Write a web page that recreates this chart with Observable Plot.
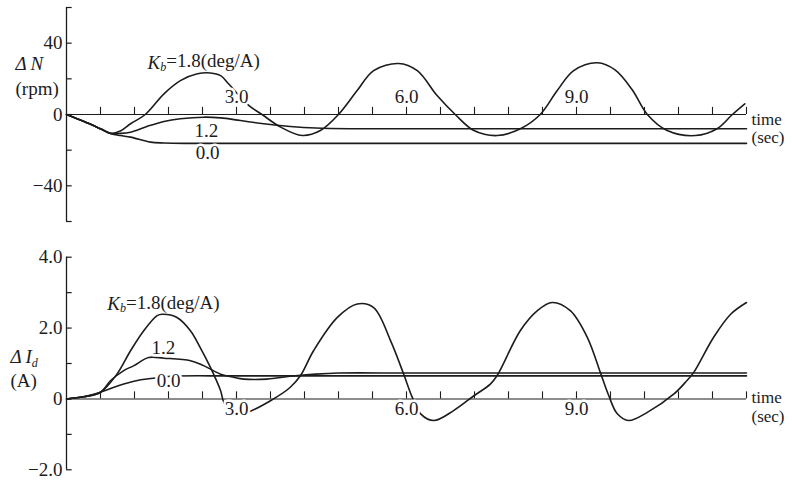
<!DOCTYPE html>
<html>
<head>
<meta charset="utf-8">
<script src="https://cdn.jsdelivr.net/npm/d3@7"></script>
<script src="https://cdn.jsdelivr.net/npm/@observablehq/plot@0.6"></script>
<style>
  html, body { margin: 0; padding: 0; background: #fff; }
  #chart { width: 792px; height: 480px; overflow: hidden; }
  #chart svg { display: block; }
</style>
</head>
<body>
<div id="chart"></div>
<script>
// ---------- shared time axis ----------
const xTickTimes = [0.6, 1.2, 1.8, 2.4, 3.0, 3.6, 4.2, 4.8, 5.4, 6.0, 6.6, 7.2, 7.8, 8.4, 9.0, 9.6, 10.2, 10.8, 11.4, 12.0];
const timeLabelTimes = [3, 6, 9];
const timeLabelTexts = ["3.0", "6.0", "9.0"];
const kbNames = ["1.8", "1.2", "0.0"];

// ---------- top panel: ΔN (rpm) ----------
const nTicks = [-60, -40, -20, 0, 20, 40, 60];
const nTickLabelValues = [40, 0, -40];
const nTickLabelTexts = ["40", "0", "\u221240"];

const nT18 = [0, 0.3, 0.6, 0.78, 0.95, 1.13, 1.39, 1.72, 2.01, 2.31, 2.54, 2.72, 2.86, 3.05, 3.22, 3.45, 3.78, 4.16, 4.48, 4.8, 5.13, 5.42, 5.86, 6.19, 6.54, 6.86, 7.19, 7.6, 8.01, 8.36, 8.66, 8.95, 9.37, 9.68, 9.98, 10.25, 10.6, 11.1, 11.48, 11.75, 11.97];
const nV18 = [0, -3.8, -8, -10.6, -9.3, -5.2, 0, 11.6, 19, 22.8, 23.3, 21.8, 17.2, 10.5, 5, 0, -7.1, -11.8, -9, 0, 13.4, 24.6, 28.6, 24.6, 10.6, 0, -9, -11.8, -8, 0, 13.4, 24.6, 29, 25, 14, 0, -9, -11.8, -8, 0, 6];
const nT12 = [0, 0.3, 0.6, 0.78, 0.95, 1.13, 1.42, 1.72, 2.01, 2.42, 2.72, 3.07, 3.48, 3.95, 4.4, 5.0, 6.0, 8.0, 10.0, 12.0];
const nV12 = [0, -3.8, -8, -10.6, -10.6, -9.9, -6.7, -3.9, -2.4, -1.5, -1.9, -3.4, -5.2, -6.7, -7.6, -8, -8, -8, -8, -8];
const nT00 = [0, 0.3, 0.6, 0.78, 0.95, 1.13, 1.48, 1.72, 2.2, 4, 6, 8, 10, 12];
const nV00 = [0, -3.8, -8, -10.6, -11.8, -12.7, -15.5, -16, -16.2, -16.2, -16.2, -16.2, -16.2, -16.2];

// ---------- bottom panel: ΔId (A) ----------
const iTicks = [-2, -1, 0, 1, 2, 3, 4];
const iTickLabelValues = [4, 2, 0, -2];
const iTickLabelTexts = ["4.0", "2.0", "0", "\u22122.0"];

const iT18 = [0, 0.3, 0.6, 0.89, 1.13, 1.36, 1.6, 1.69, 1.95, 2.19, 2.36, 2.54, 2.72, 2.78, 2.95, 3.1, 3.19, 3.6, 3.95, 4.13, 4.36, 4.78, 5.13, 5.42, 5.72, 5.95, 6.1, 6.25, 6.48, 6.83, 7.19, 7.48, 7.6, 8.01, 8.31, 8.57, 8.89, 9.19, 9.42, 9.57, 9.72, 9.92, 10.25, 10.72, 10.95, 11.07, 11.42, 11.72, 12];
const iV18 = [0, 0.06, 0.19, 0.7, 1.36, 1.92, 2.35, 2.39, 2.3, 1.92, 1.45, 0.89, 0.23, -0.1, -0.34, -0.41, -0.38, -0.05, 0.33, 0.66, 1.36, 2.3, 2.68, 2.58, 1.64, 0.7, 0.05, -0.42, -0.61, -0.33, 0.09, 0.42, 0.66, 1.93, 2.49, 2.72, 2.49, 1.74, 0.75, 0.09, -0.42, -0.61, -0.38, 0.14, 0.52, 0.75, 1.74, 2.39, 2.72];
const iT12 = [0, 0.3, 0.6, 0.78, 1.01, 1.19, 1.45, 1.72, 2.19, 2.42, 2.72, 2.95, 3.13, 3.54, 3.95, 4.4, 4.8, 6, 8, 10, 12];
const iV12 = [0, 0.06, 0.19, 0.52, 0.8, 0.94, 1.17, 1.15, 1.08, 0.94, 0.7, 0.61, 0.56, 0.56, 0.64, 0.7, 0.73, 0.73, 0.73, 0.73, 0.73];
const iT00 = [0, 0.3, 0.6, 0.72, 1.01, 1.31, 1.57, 1.84, 3, 6, 9, 12];
const iV00 = [0, 0.06, 0.19, 0.26, 0.42, 0.54, 0.59, 0.64, 0.65, 0.65, 0.65, 0.65];

// ---------- annotations (data coordinates) ----------
const nCurveLabelTexts = ["Kb=1.8(deg/A)", "1.2", "0.0"];
const nCurveLabelT = [1.43, 2.47, 2.49];
const nCurveLabelV = [29, -9, -21.8];
const iCurveLabelTexts = ["Kb=1.8(deg/A)", "1.2", "0.0"];
const iCurveLabelT = [0.72, 1.71, 1.8];
const iCurveLabelV = [2.68, 1.45, 0.5];

const FONT = "'Liberation Serif', 'DejaVu Serif', serif";
const INK = "#1c1c1c";
const FS = 19;

function makePanel(c) {
  const rows = [];
  c.series.forEach(s => s.t.forEach((t, i) => rows.push({k: s.k, t, v: s.v[i]})));
  const curveLabels = c.curveTexts.map((txt, i) => ({txt, t: c.curveT[i], v: c.curveV[i]}));
  const timeLabels = timeLabelTimes.map((t, i) => ({t, txt: timeLabelTexts[i]}));
  const txt = {fill: INK, fontSize: FS, fontFamily: FONT};
  const halo = {stroke: "white", strokeWidth: 5, paintOrder: "stroke", ...txt};
  const svg = Plot.plot({
    width: 792, height: 240,
    marginLeft: 66, marginRight: 46, marginTop: c.mt, marginBottom: c.mb,
    x: {domain: [0, 12], axis: null},
    y: {domain: c.yDomain, axis: null},
    style: {fontFamily: FONT, fontSize: FS + "px", background: "white", color: INK, overflow: "visible"},
    marks: [
      Plot.ruleX([0], {stroke: INK, strokeWidth: 1.3}),
      Plot.ruleY(c.yTicks, {x1: 0, x2: 0.1, stroke: INK, strokeWidth: 1.2}),
      Plot.ruleY([0], {x1: 0, x2: 12, stroke: INK, strokeWidth: 1.1}),
      Plot.ruleX(xTickTimes, {y1: 0, y2: c.tickLen, stroke: INK, strokeWidth: 1.1}),
      Plot.line(rows, {x: "t", y: "v", z: "k", curve: "catmull-rom", stroke: INK, strokeWidth: 1.6}),
      Plot.text(c.tickValues, {x: 0, y: d => d, text: (d, i) => c.tickTexts[i], dx: -4, textAnchor: "end", ...txt}),
      Plot.text(timeLabels, {x: "t", y: () => c.timeLabelV, text: "txt", textAnchor: "middle", ...halo}),
      Plot.text(curveLabels.slice(0, 1), {x: "t", y: "v", text: "txt", textAnchor: "start", ...txt}),
      Plot.text(curveLabels.slice(1), {x: "t", y: "v", text: "txt", textAnchor: "middle", ...halo}),
      Plot.text(c.titles, {x: 0, y: "v", text: "txt", dx: c.titleDx, textAnchor: "start", ...txt}),
      Plot.text(c.unitTexts, {x: 12, y: "v", text: "txt", dx: 5, textAnchor: "start", ...txt, fontSize: 17})
    ]
  });
  // typographic touches: italic K with subscript b, italic ΔN, ΔI with subscript d
  d3.select(svg).selectAll("text").each(function () {
    const s = this.textContent;
    const el = d3.select(this);
    if (s.startsWith("Kb")) {
      this.textContent = "";
      el.append("tspan").attr("font-style", "italic").text("K");
      el.append("tspan").attr("font-style", "italic").attr("font-size", 12).attr("dy", "0.2em").text("b");
      el.append("tspan").attr("dy", "-0.2em").text(s.slice(2));
    } else if (s === "\u0394\u2009N") {
      el.attr("font-style", "italic");
    } else if (s === "\u0394\u2009Id") {
      this.textContent = "";
      el.append("tspan").attr("font-style", "italic").text("\u0394\u2009I");
      el.append("tspan").attr("font-style", "italic").attr("font-size", 12).attr("dy", "0.3em").text("d");
    }
  });
  return svg;
}

const topPanel = makePanel({
  mt: 7, mb: 19, yDomain: [-60, 60], yTicks: nTicks, tickLen: 4,
  tickValues: nTickLabelValues, tickTexts: nTickLabelTexts,
  series: [{k: kbNames[0], t: nT18, v: nV18}, {k: kbNames[1], t: nT12, v: nV12}, {k: kbNames[2], t: nT00, v: nV00}],
  curveTexts: nCurveLabelTexts, curveT: nCurveLabelT, curveV: nCurveLabelV,
  timeLabelV: 9.6,
  titles: [{txt: "\u0394\u2009N", v: 28.6}, {txt: "(rpm)", v: 14.6}], titleDx: -51,
  unitTexts: [{txt: "time", v: -2.6}, {txt: "(sec)", v: -13.2}]
});
const bottomPanel = makePanel({
  mt: 16.7, mb: 10.7, yDomain: [-2, 4], yTicks: iTicks, tickLen: 0.2,
  tickValues: iTickLabelValues, tickTexts: iTickLabelTexts,
  series: [{k: kbNames[0], t: iT18, v: iV18}, {k: kbNames[1], t: iT12, v: iV12}, {k: kbNames[2], t: iT00, v: iV00}],
  curveTexts: iCurveLabelTexts, curveT: iCurveLabelT, curveV: iCurveLabelV,
  timeLabelV: -0.28,
  titles: [{txt: "\u0394\u2009Id", v: 1.18}, {txt: "(A)", v: 0.52}], titleDx: -56,
  unitTexts: [{txt: "time", v: 0.04}, {txt: "(sec)", v: -0.51}]
});
document.getElementById("chart").append(topPanel, bottomPanel);
</script>
</body>
</html>
